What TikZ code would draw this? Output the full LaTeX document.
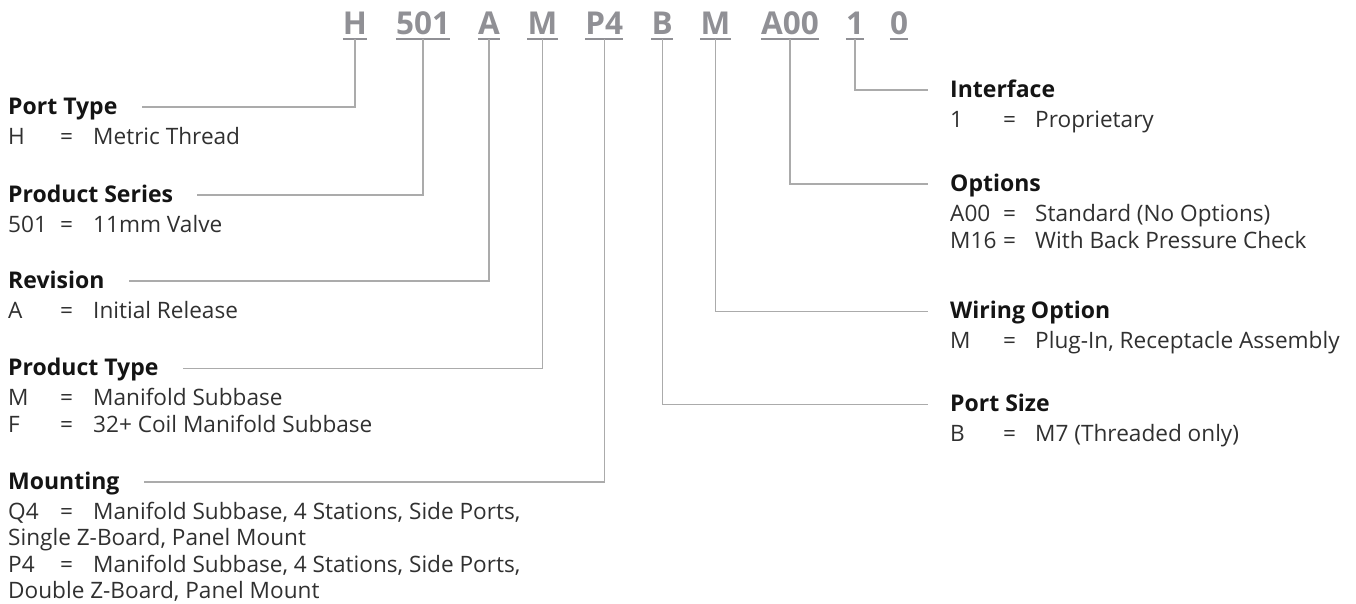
\documentclass[tikz,border=0pt]{standalone}
\usepackage{fontspec}
\setmainfont{Open Sans}
\definecolor{codegray}{HTML}{909095}
\definecolor{linegray}{HTML}{ABABAB}
\definecolor{headc}{HTML}{141414}
\definecolor{bodyc}{HTML}{303030}
\newcommand\kvl[2]{\makebox[52pt][l]{#1}\makebox[33pt][l]{=}#2}
\newcommand\kvr[2]{\makebox[53pt][l]{#1}\makebox[32pt][l]{=}#2}
\begin{document}
\begin{tikzpicture}[x=1pt,y=-1pt,
  code/.style={font=\fontsize{31.5}{31.5}\selectfont\bfseries, text=codegray, inner sep=0pt, anchor=base},
  head/.style={font=\fontsize{23}{26}\selectfont\bfseries, text=headc, inner sep=0pt, anchor=base west},
  body/.style={font=\fontsize{22.6}{26}\selectfont, text=bodyc, inner sep=0pt, anchor=base west},
  conn/.style={draw=linegray, line width=1.3pt},
  uline/.style={draw=codegray, line width=1.3pt}]
\useasboundingbox (0,0) rectangle (1356,603);

% code letters
\node[code] (cH) at (355,34) {H};
\node[code] (c501) at (423,34) {501};
\node[code] (cA) at (489,34) {A};
\node[code] (cM1) at (542.5,34) {M};
\node[code] (cP4) at (604.3,34) {P4};
\node[code] (cB) at (662.2,34) {B};
\node[code] (cM2) at (715.5,34) {M};
\node[code] (cA00) at (790,34) {A00};
\node[code] (c1) at (855,34) {1};
\node[code] (c0) at (899,34) {0};
\foreach \n in {cH,c501,cA,cM1,cP4,cB,cM2,cA00,c1,c0}{
  \draw[uline] ([yshift=-5pt]\n.base west) -- ([yshift=-5pt]\n.base east);
}
\foreach \n in {cH,c501,cA,cM1,cP4,cB,cM2,cA00,c1}{
  \coordinate (u\n) at ([yshift=-5pt]\n.base);
}

% left sections
\node[head] (hPT) at (8,114) {Port Type};
\node[body] (bPT) at (8,144) {\kvl{H}{Metric Thread}};

\node[head] (hPS) at (8,202) {Product Series};
\node[body] (bPS) at (8,232) {\kvl{501}{11mm Valve}};

\node[head] (hRV) at (8,288) {Revision};
\node[body] (bRV) at (8,318) {\kvl{A}{Initial Release}};

\node[head] (hPY) at (8,375.5) {Product Type};
\node[body] (bPY1) at (8,405.5) {\kvl{M}{Manifold Subbase}};
\node[body] (bPY2) at (8,432.5) {\kvl{F}{32+ Coil Manifold Subbase}};

\node[head] (hMT) at (8,489) {Mounting};
\node[body] (bMT1) at (8,519) {\kvl{Q4}{Manifold Subbase, 4 Stations, Side Ports,}};
\node[body] (bMT2) at (8,545) {Single Z-Board, Panel Mount};
\node[body] (bMT3) at (8,572) {\kvl{P4}{Manifold Subbase, 4 Stations, Side Ports,}};
\node[body] (bMT4) at (8,598) {Double Z-Board, Panel Mount};

% right sections
\node[head] (hIF) at (950,97) {Interface};
\node[body] (bIF) at (950,127) {\kvr{1}{Proprietary}};

\node[head] (hOP) at (950,191) {Options};
\node[body] (bOP1) at (950,221) {\kvr{A00}{Standard (No Options)}};
\node[body] (bOP2) at (950,248) {\kvr{M16}{With Back Pressure Check}};

\node[head] (hWO) at (950,318.7) {Wiring Option};
\node[body] (bWO) at (950,348.7) {\kvr{M}{Plug-In, Receptacle Assembly}};

\node[head] (hPZ) at (950,411.3) {Port Size};
\node[body] (bPZ) at (950,441.3) {\kvr{B}{M7 (Threaded only)}};

% connector end points
\foreach \h in {hPT,hPS,hRV,hPY,hMT}{
  \coordinate (s\h) at ([xshift=24pt,yshift=7pt]\h.base east);
}
\foreach \h in {hIF,hOP,hWO,hPZ}{
  \coordinate (s\h) at ([xshift=-22pt,yshift=7pt]\h.base west);
}

\draw[conn] (ucH) |- (shPT);
\draw[conn] (uc501) |- (shPS);
\draw[conn] (ucA) |- (shRV);
\draw[conn] (ucM1) |- (shPY);
\draw[conn] (ucP4) |- (shMT);
\draw[conn] (uc1) |- (shIF);
\draw[conn] (ucA00) |- (shOP);
\draw[conn] (ucM2) |- (shWO);
\draw[conn] (ucB) |- (shPZ);
\end{tikzpicture}
\end{document}
